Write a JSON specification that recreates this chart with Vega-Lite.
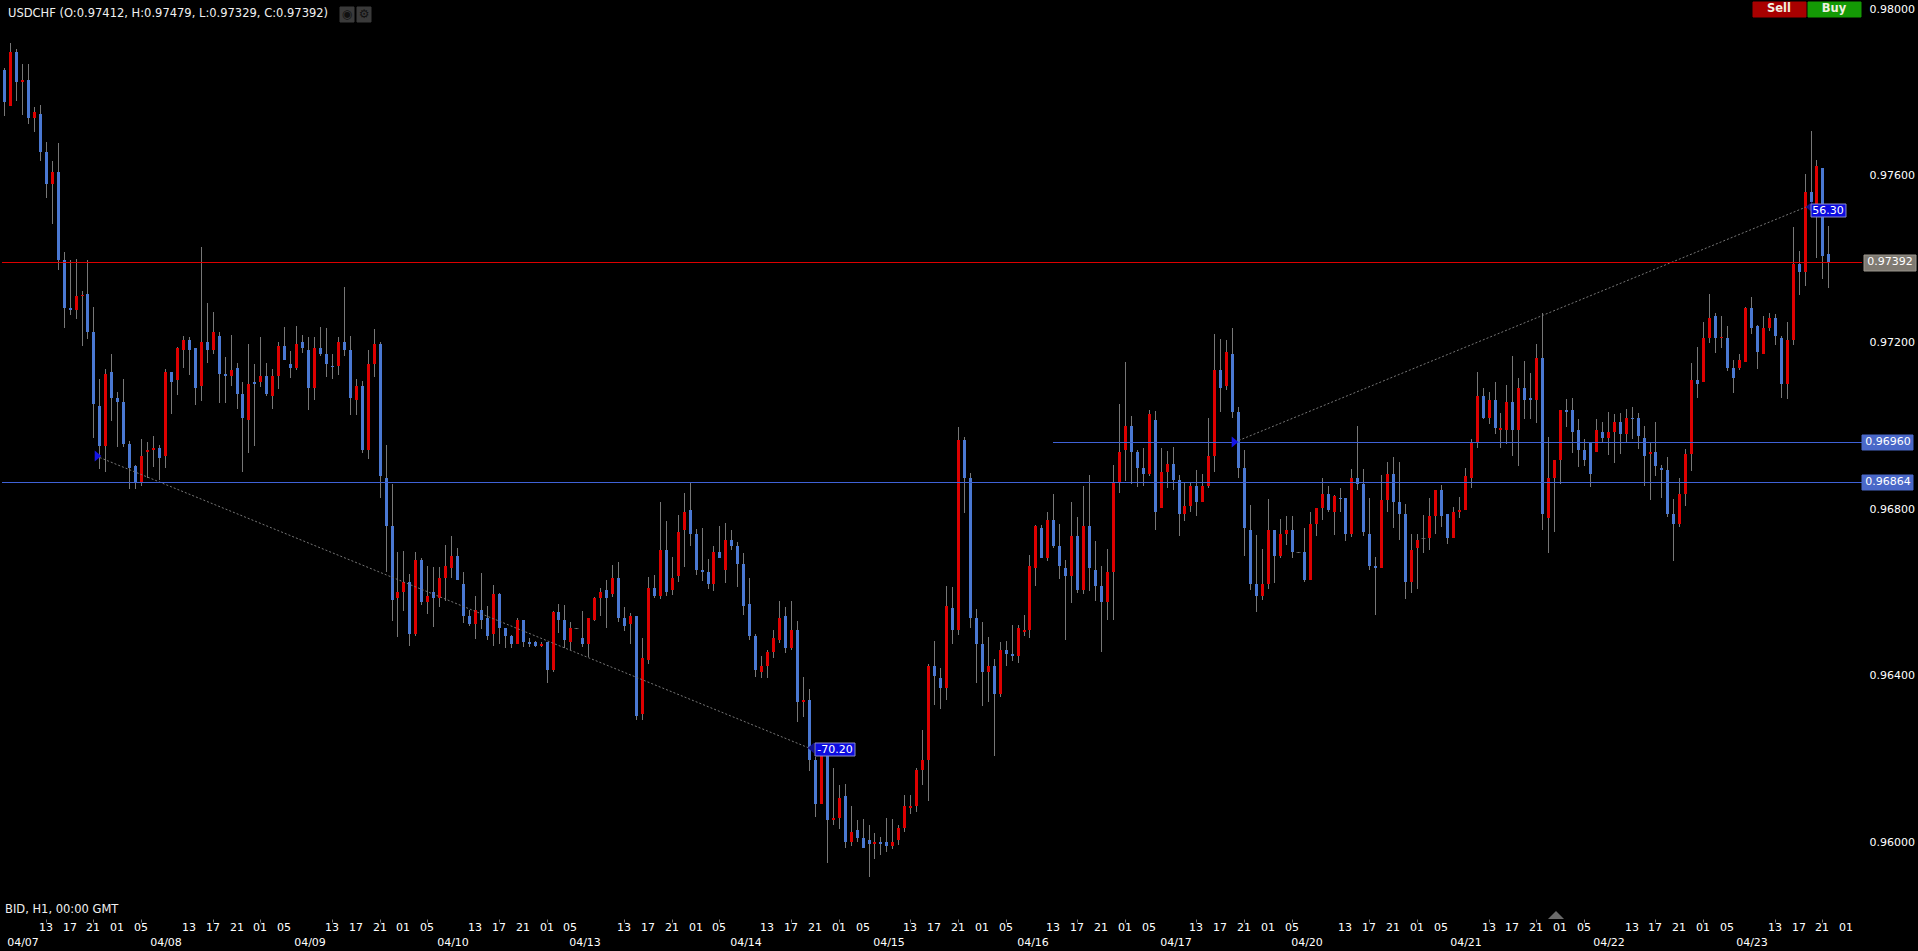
{"$schema":"https://vega.github.io/schema/vega-lite/v6.json","width":1865,"height":919,"autosize":{"type":"none"},"padding":{"left":0,"top":0,"right":53,"bottom":32},"background":"#000000","config":{"view":{"stroke":null},"font":"DejaVu Sans"},
"datasets":{"candles":[
{"bar":0,"open":0.97854,"high":0.97858,"low":0.97742,"close":0.97777},
{"bar":1,"open":0.97767,"high":0.97918,"low":0.97767,"close":0.97897},
{"bar":2,"open":0.97897,"high":0.97903,"low":0.97779,"close":0.97825},
{"bar":3,"open":0.97825,"high":0.97868,"low":0.97746,"close":0.97830},
{"bar":4,"open":0.97830,"high":0.97868,"low":0.97724,"close":0.97738},
{"bar":5,"open":0.97738,"high":0.97765,"low":0.97705,"close":0.97753},
{"bar":6,"open":0.97748,"high":0.97769,"low":0.97635,"close":0.97657},
{"bar":7,"open":0.97657,"high":0.97681,"low":0.97546,"close":0.97580},
{"bar":8,"open":0.97580,"high":0.97634,"low":0.97484,"close":0.97609},
{"bar":9,"open":0.97609,"high":0.97678,"low":0.97374,"close":0.97398},
{"bar":10,"open":0.97398,"high":0.97417,"low":0.97234,"close":0.97282},
{"bar":11,"open":0.97282,"high":0.97398,"low":0.97266,"close":0.97278},
{"bar":12,"open":0.97278,"high":0.97400,"low":0.97256,"close":0.97311},
{"bar":13,"open":0.97311,"high":0.97323,"low":0.97191,"close":0.97314},
{"bar":14,"open":0.97316,"high":0.97398,"low":0.97208,"close":0.97225},
{"bar":15,"open":0.97225,"high":0.97285,"low":0.96970,"close":0.97052},
{"bar":16,"open":0.97047,"high":0.97111,"low":0.96896,"close":0.96951},
{"bar":17,"open":0.96951,"high":0.97135,"low":0.96888,"close":0.97124},
{"bar":18,"open":0.97128,"high":0.97172,"low":0.97011,"close":0.97066},
{"bar":19,"open":0.97066,"high":0.97080,"low":0.96948,"close":0.97056},
{"bar":20,"open":0.97056,"high":0.97111,"low":0.96948,"close":0.96956},
{"bar":21,"open":0.96956,"high":0.96963,"low":0.96848,"close":0.96897},
{"bar":22,"open":0.96903,"high":0.96904,"low":0.96848,"close":0.96863},
{"bar":23,"open":0.96864,"high":0.96967,"low":0.96855,"close":0.96927},
{"bar":24,"open":0.96936,"high":0.96960,"low":0.96874,"close":0.96941},
{"bar":25,"open":0.96941,"high":0.96975,"low":0.96900,"close":0.96946},
{"bar":26,"open":0.96946,"high":0.96953,"low":0.96869,"close":0.96922},
{"bar":27,"open":0.96927,"high":0.97135,"low":0.96898,"close":0.97128},
{"bar":28,"open":0.97128,"high":0.97128,"low":0.97027,"close":0.97104},
{"bar":29,"open":0.97109,"high":0.97187,"low":0.97073,"close":0.97186},
{"bar":30,"open":0.97181,"high":0.97215,"low":0.97138,"close":0.97205},
{"bar":31,"open":0.97205,"high":0.97211,"low":0.97121,"close":0.97181},
{"bar":32,"open":0.97186,"high":0.97186,"low":0.97049,"close":0.97090},
{"bar":33,"open":0.97095,"high":0.97428,"low":0.97059,"close":0.97200},
{"bar":34,"open":0.97200,"high":0.97294,"low":0.97150,"close":0.97181},
{"bar":35,"open":0.97181,"high":0.97272,"low":0.97171,"close":0.97224},
{"bar":36,"open":0.97215,"high":0.97224,"low":0.97054,"close":0.97124},
{"bar":37,"open":0.97124,"high":0.97164,"low":0.97054,"close":0.97119},
{"bar":38,"open":0.97119,"high":0.97217,"low":0.97095,"close":0.97133},
{"bar":39,"open":0.97138,"high":0.97150,"low":0.97039,"close":0.97075},
{"bar":40,"open":0.97075,"high":0.97104,"low":0.96888,"close":0.97018},
{"bar":41,"open":0.97013,"high":0.97195,"low":0.96934,"close":0.97099},
{"bar":42,"open":0.97104,"high":0.97147,"low":0.96951,"close":0.97099},
{"bar":43,"open":0.97104,"high":0.97211,"low":0.97092,"close":0.97119},
{"bar":44,"open":0.97119,"high":0.97150,"low":0.97071,"close":0.97075},
{"bar":45,"open":0.97071,"high":0.97135,"low":0.97039,"close":0.97119},
{"bar":46,"open":0.97119,"high":0.97199,"low":0.97087,"close":0.97191},
{"bar":47,"open":0.97191,"high":0.97236,"low":0.97157,"close":0.97157},
{"bar":48,"open":0.97147,"high":0.97179,"low":0.97114,"close":0.97138},
{"bar":49,"open":0.97138,"high":0.97239,"low":0.97133,"close":0.97195},
{"bar":50,"open":0.97200,"high":0.97217,"low":0.97174,"close":0.97186},
{"bar":51,"open":0.97181,"high":0.97211,"low":0.97037,"close":0.97090},
{"bar":52,"open":0.97090,"high":0.97211,"low":0.97061,"close":0.97186},
{"bar":53,"open":0.97186,"high":0.97236,"low":0.97167,"close":0.97171},
{"bar":54,"open":0.97171,"high":0.97234,"low":0.97116,"close":0.97147},
{"bar":55,"open":0.97143,"high":0.97171,"low":0.97111,"close":0.97140},
{"bar":56,"open":0.97143,"high":0.97211,"low":0.97121,"close":0.97200},
{"bar":57,"open":0.97200,"high":0.97332,"low":0.97167,"close":0.97181},
{"bar":58,"open":0.97181,"high":0.97215,"low":0.97025,"close":0.97066},
{"bar":59,"open":0.97061,"high":0.97111,"low":0.97025,"close":0.97095},
{"bar":60,"open":0.97095,"high":0.97107,"low":0.96934,"close":0.96941},
{"bar":61,"open":0.96941,"high":0.97181,"low":0.96919,"close":0.97147},
{"bar":62,"open":0.97147,"high":0.97231,"low":0.97116,"close":0.97195},
{"bar":63,"open":0.97195,"high":0.97200,"low":0.96826,"close":0.96879},
{"bar":64,"open":0.96874,"high":0.96953,"low":0.96648,"close":0.96759},
{"bar":65,"open":0.96759,"high":0.96859,"low":0.96531,"close":0.96581},
{"bar":66,"open":0.96586,"high":0.96696,"low":0.96492,"close":0.96600},
{"bar":67,"open":0.96600,"high":0.96699,"low":0.96555,"close":0.96624},
{"bar":68,"open":0.96624,"high":0.96643,"low":0.96471,"close":0.96499},
{"bar":69,"open":0.96499,"high":0.96696,"low":0.96495,"close":0.96677},
{"bar":70,"open":0.96677,"high":0.96682,"low":0.96569,"close":0.96576},
{"bar":71,"open":0.96576,"high":0.96663,"low":0.96547,"close":0.96591},
{"bar":72,"open":0.96600,"high":0.96660,"low":0.96516,"close":0.96586},
{"bar":73,"open":0.96586,"high":0.96660,"low":0.96564,"close":0.96634},
{"bar":74,"open":0.96634,"high":0.96713,"low":0.96579,"close":0.96663},
{"bar":75,"open":0.96658,"high":0.96735,"low":0.96634,"close":0.96687},
{"bar":76,"open":0.96687,"high":0.96706,"low":0.96629,"close":0.96629},
{"bar":77,"open":0.96619,"high":0.96648,"low":0.96526,"close":0.96543},
{"bar":78,"open":0.96543,"high":0.96557,"low":0.96519,"close":0.96524},
{"bar":79,"open":0.96524,"high":0.96591,"low":0.96488,"close":0.96557},
{"bar":80,"open":0.96557,"high":0.96646,"low":0.96512,"close":0.96533},
{"bar":81,"open":0.96538,"high":0.96567,"low":0.96485,"close":0.96495},
{"bar":82,"open":0.96500,"high":0.96617,"low":0.96471,"close":0.96596},
{"bar":83,"open":0.96596,"high":0.96598,"low":0.96476,"close":0.96514},
{"bar":84,"open":0.96514,"high":0.96514,"low":0.96466,"close":0.96495},
{"bar":85,"open":0.96495,"high":0.96497,"low":0.96466,"close":0.96476},
{"bar":86,"open":0.96476,"high":0.96538,"low":0.96476,"close":0.96533},
{"bar":87,"open":0.96533,"high":0.96533,"low":0.96468,"close":0.96481},
{"bar":88,"open":0.96481,"high":0.96490,"low":0.96468,"close":0.96476},
{"bar":89,"open":0.96481,"high":0.96483,"low":0.96468,"close":0.96471},
{"bar":90,"open":0.96471,"high":0.96481,"low":0.96468,"close":0.96476},
{"bar":91,"open":0.96481,"high":0.96481,"low":0.96382,"close":0.96413},
{"bar":92,"open":0.96413,"high":0.96555,"low":0.96408,"close":0.96552},
{"bar":93,"open":0.96552,"high":0.96572,"low":0.96502,"close":0.96533},
{"bar":94,"open":0.96533,"high":0.96569,"low":0.96466,"close":0.96485},
{"bar":95,"open":0.96481,"high":0.96528,"low":0.96461,"close":0.96514},
{"bar":96,"open":0.96513,"high":0.96514,"low":0.96512,"close":0.96513},
{"bar":97,"open":0.96490,"high":0.96555,"low":0.96468,"close":0.96476},
{"bar":98,"open":0.96476,"high":0.96538,"low":0.96444,"close":0.96538},
{"bar":99,"open":0.96533,"high":0.96588,"low":0.96531,"close":0.96586},
{"bar":100,"open":0.96586,"high":0.96610,"low":0.96543,"close":0.96600},
{"bar":101,"open":0.96605,"high":0.96629,"low":0.96514,"close":0.96586},
{"bar":102,"open":0.96596,"high":0.96665,"low":0.96588,"close":0.96634},
{"bar":103,"open":0.96634,"high":0.96672,"low":0.96528,"close":0.96538},
{"bar":104,"open":0.96538,"high":0.96564,"low":0.96507,"close":0.96519},
{"bar":105,"open":0.96524,"high":0.96550,"low":0.96476,"close":0.96543},
{"bar":106,"open":0.96543,"high":0.96543,"low":0.96293,"close":0.96303},
{"bar":107,"open":0.96308,"high":0.96490,"low":0.96293,"close":0.96442},
{"bar":108,"open":0.96437,"high":0.96636,"low":0.96428,"close":0.96610},
{"bar":109,"open":0.96610,"high":0.96641,"low":0.96586,"close":0.96591},
{"bar":110,"open":0.96591,"high":0.96816,"low":0.96584,"close":0.96701},
{"bar":111,"open":0.96701,"high":0.96771,"low":0.96591,"close":0.96600},
{"bar":112,"open":0.96605,"high":0.96684,"low":0.96593,"close":0.96634},
{"bar":113,"open":0.96639,"high":0.96785,"low":0.96624,"close":0.96744},
{"bar":114,"open":0.96749,"high":0.96838,"low":0.96660,"close":0.96792},
{"bar":115,"open":0.96797,"high":0.96862,"low":0.96711,"close":0.96740},
{"bar":116,"open":0.96740,"high":0.96752,"low":0.96641,"close":0.96653},
{"bar":117,"open":0.96653,"high":0.96754,"low":0.96627,"close":0.96648},
{"bar":118,"open":0.96648,"high":0.96680,"low":0.96608,"close":0.96620},
{"bar":119,"open":0.96620,"high":0.96711,"low":0.96603,"close":0.96696},
{"bar":120,"open":0.96696,"high":0.96759,"low":0.96682,"close":0.96682},
{"bar":121,"open":0.96653,"high":0.96766,"low":0.96622,"close":0.96725},
{"bar":122,"open":0.96725,"high":0.96749,"low":0.96701,"close":0.96711},
{"bar":123,"open":0.96711,"high":0.96720,"low":0.96612,"close":0.96668},
{"bar":124,"open":0.96668,"high":0.96694,"low":0.96545,"close":0.96567},
{"bar":125,"open":0.96572,"high":0.96634,"low":0.96485,"close":0.96495},
{"bar":126,"open":0.96495,"high":0.96500,"low":0.96396,"close":0.96413},
{"bar":127,"open":0.96408,"high":0.96447,"low":0.96394,"close":0.96423},
{"bar":128,"open":0.96423,"high":0.96461,"low":0.96394,"close":0.96456},
{"bar":129,"open":0.96456,"high":0.96509,"low":0.96442,"close":0.96490},
{"bar":130,"open":0.96485,"high":0.96579,"low":0.96478,"close":0.96538},
{"bar":131,"open":0.96543,"high":0.96564,"low":0.96454,"close":0.96466},
{"bar":132,"open":0.96466,"high":0.96579,"low":0.96461,"close":0.96509},
{"bar":133,"open":0.96509,"high":0.96530,"low":0.96288,"close":0.96336},
{"bar":134,"open":0.96336,"high":0.96395,"low":0.96300,"close":0.96341},
{"bar":135,"open":0.96341,"high":0.96367,"low":0.96171,"close":0.96197},
{"bar":136,"open":0.96197,"high":0.96205,"low":0.96060,"close":0.96091},
{"bar":137,"open":0.96091,"high":0.96233,"low":0.96091,"close":0.96221},
{"bar":138,"open":0.96221,"high":0.96229,"low":0.95950,"close":0.96053},
{"bar":139,"open":0.96053,"high":0.96178,"low":0.96041,"close":0.96058},
{"bar":140,"open":0.96058,"high":0.96137,"low":0.96031,"close":0.96106},
{"bar":141,"open":0.96111,"high":0.96139,"low":0.95986,"close":0.96000},
{"bar":142,"open":0.96000,"high":0.96087,"low":0.95991,"close":0.96024},
{"bar":143,"open":0.96029,"high":0.96053,"low":0.96000,"close":0.96010},
{"bar":144,"open":0.96010,"high":0.96055,"low":0.95986,"close":0.95986},
{"bar":145,"open":0.96005,"high":0.96041,"low":0.95916,"close":0.95995},
{"bar":146,"open":0.95995,"high":0.96022,"low":0.95959,"close":0.96000},
{"bar":147,"open":0.96000,"high":0.96012,"low":0.95969,"close":0.95995},
{"bar":148,"open":0.96000,"high":0.96058,"low":0.95976,"close":0.95991},
{"bar":149,"open":0.95991,"high":0.96055,"low":0.95983,"close":0.96000},
{"bar":150,"open":0.96005,"high":0.96041,"low":0.95993,"close":0.96034},
{"bar":151,"open":0.96034,"high":0.96113,"low":0.96024,"close":0.96087},
{"bar":152,"open":0.96082,"high":0.96113,"low":0.96067,"close":0.96087},
{"bar":153,"open":0.96087,"high":0.96178,"low":0.96072,"close":0.96173},
{"bar":154,"open":0.96173,"high":0.96269,"low":0.96137,"close":0.96197},
{"bar":155,"open":0.96197,"high":0.96427,"low":0.96099,"close":0.96423},
{"bar":156,"open":0.96423,"high":0.96483,"low":0.96329,"close":0.96399},
{"bar":157,"open":0.96394,"high":0.96418,"low":0.96319,"close":0.96370},
{"bar":158,"open":0.96370,"high":0.96615,"low":0.96341,"close":0.96567},
{"bar":159,"open":0.96562,"high":0.96612,"low":0.96475,"close":0.96509},
{"bar":160,"open":0.96509,"high":0.96996,"low":0.96497,"close":0.96965},
{"bar":161,"open":0.96965,"high":0.96972,"low":0.96790,"close":0.96874},
{"bar":162,"open":0.96874,"high":0.96886,"low":0.96514,"close":0.96538},
{"bar":163,"open":0.96538,"high":0.96559,"low":0.96382,"close":0.96475},
{"bar":164,"open":0.96475,"high":0.96528,"low":0.96327,"close":0.96408},
{"bar":165,"open":0.96408,"high":0.96492,"low":0.96336,"close":0.96423},
{"bar":166,"open":0.96423,"high":0.96439,"low":0.96207,"close":0.96355},
{"bar":167,"open":0.96355,"high":0.96480,"low":0.96348,"close":0.96461},
{"bar":168,"open":0.96461,"high":0.96483,"low":0.96423,"close":0.96451},
{"bar":169,"open":0.96451,"high":0.96521,"low":0.96435,"close":0.96447},
{"bar":170,"open":0.96447,"high":0.96521,"low":0.96430,"close":0.96514},
{"bar":171,"open":0.96504,"high":0.96545,"low":0.96495,"close":0.96509},
{"bar":172,"open":0.96509,"high":0.96689,"low":0.96490,"close":0.96663},
{"bar":173,"open":0.96658,"high":0.96761,"low":0.96615,"close":0.96759},
{"bar":174,"open":0.96754,"high":0.96761,"low":0.96682,"close":0.96682},
{"bar":175,"open":0.96682,"high":0.96792,"low":0.96675,"close":0.96773},
{"bar":176,"open":0.96773,"high":0.96836,"low":0.96706,"close":0.96711},
{"bar":177,"open":0.96711,"high":0.96764,"low":0.96632,"close":0.96663},
{"bar":178,"open":0.96658,"high":0.96677,"low":0.96485,"close":0.96639},
{"bar":179,"open":0.96639,"high":0.96816,"low":0.96574,"close":0.96735},
{"bar":180,"open":0.96735,"high":0.96780,"low":0.96598,"close":0.96605},
{"bar":181,"open":0.96605,"high":0.96855,"low":0.96596,"close":0.96759},
{"bar":182,"open":0.96759,"high":0.96881,"low":0.96603,"close":0.96658},
{"bar":183,"open":0.96653,"high":0.96723,"low":0.96579,"close":0.96615},
{"bar":184,"open":0.96615,"high":0.96663,"low":0.96455,"close":0.96576},
{"bar":185,"open":0.96576,"high":0.96703,"low":0.96533,"close":0.96648},
{"bar":186,"open":0.96648,"high":0.96905,"low":0.96533,"close":0.96862},
{"bar":187,"open":0.96864,"high":0.97052,"low":0.96838,"close":0.96936},
{"bar":188,"open":0.96941,"high":0.97152,"low":0.96867,"close":0.96999},
{"bar":189,"open":0.96999,"high":0.97023,"low":0.96860,"close":0.96936},
{"bar":190,"open":0.96936,"high":0.96941,"low":0.96853,"close":0.96898},
{"bar":191,"open":0.96898,"high":0.96946,"low":0.96855,"close":0.96884},
{"bar":192,"open":0.96884,"high":0.97037,"low":0.96879,"close":0.97028},
{"bar":193,"open":0.97013,"high":0.97035,"low":0.96749,"close":0.96792},
{"bar":194,"open":0.96802,"high":0.96946,"low":0.96802,"close":0.96888},
{"bar":195,"open":0.96888,"high":0.96939,"low":0.96850,"close":0.96908},
{"bar":196,"open":0.96908,"high":0.96948,"low":0.96845,"close":0.96869},
{"bar":197,"open":0.96869,"high":0.96881,"low":0.96735,"close":0.96788},
{"bar":198,"open":0.96788,"high":0.96862,"low":0.96771,"close":0.96807},
{"bar":199,"open":0.96807,"high":0.96862,"low":0.96792,"close":0.96855},
{"bar":200,"open":0.96855,"high":0.96893,"low":0.96783,"close":0.96816},
{"bar":201,"open":0.96816,"high":0.96884,"low":0.96816,"close":0.96855},
{"bar":202,"open":0.96855,"high":0.97018,"low":0.96850,"close":0.96927},
{"bar":203,"open":0.96927,"high":0.97220,"low":0.96888,"close":0.97133},
{"bar":204,"open":0.97133,"high":0.97208,"low":0.97032,"close":0.97090},
{"bar":205,"open":0.97095,"high":0.97205,"low":0.97085,"close":0.97176},
{"bar":206,"open":0.97172,"high":0.97234,"low":0.97018,"close":0.97032},
{"bar":207,"open":0.97032,"high":0.97044,"low":0.96874,"close":0.96898},
{"bar":208,"open":0.96898,"high":0.96941,"low":0.96687,"close":0.96754},
{"bar":209,"open":0.96749,"high":0.96809,"low":0.96605,"close":0.96620},
{"bar":210,"open":0.96620,"high":0.96737,"low":0.96553,"close":0.96591},
{"bar":211,"open":0.96591,"high":0.96703,"low":0.96581,"close":0.96620},
{"bar":212,"open":0.96620,"high":0.96824,"low":0.96608,"close":0.96749},
{"bar":213,"open":0.96749,"high":0.96749,"low":0.96622,"close":0.96687},
{"bar":214,"open":0.96687,"high":0.96776,"low":0.96682,"close":0.96740},
{"bar":215,"open":0.96740,"high":0.96783,"low":0.96713,"close":0.96749},
{"bar":216,"open":0.96749,"high":0.96783,"low":0.96682,"close":0.96696},
{"bar":217,"open":0.96696,"high":0.96697,"low":0.96695,"close":0.96696},
{"bar":218,"open":0.96696,"high":0.96754,"low":0.96624,"close":0.96629},
{"bar":219,"open":0.96629,"high":0.96792,"low":0.96629,"close":0.96764},
{"bar":220,"open":0.96764,"high":0.96802,"low":0.96735,"close":0.96802},
{"bar":221,"open":0.96802,"high":0.96874,"low":0.96773,"close":0.96836},
{"bar":222,"open":0.96836,"high":0.96855,"low":0.96792,"close":0.96797},
{"bar":223,"open":0.96792,"high":0.96833,"low":0.96737,"close":0.96831},
{"bar":224,"open":0.96826,"high":0.96850,"low":0.96792,"close":0.96824},
{"bar":225,"open":0.96826,"high":0.96826,"low":0.96723,"close":0.96740},
{"bar":226,"open":0.96740,"high":0.96896,"low":0.96732,"close":0.96874},
{"bar":227,"open":0.96874,"high":0.96999,"low":0.96845,"close":0.96860},
{"bar":228,"open":0.96860,"high":0.96896,"low":0.96735,"close":0.96745},
{"bar":229,"open":0.96740,"high":0.96826,"low":0.96653,"close":0.96663},
{"bar":230,"open":0.96663,"high":0.96684,"low":0.96545,"close":0.96658},
{"bar":231,"open":0.96658,"high":0.96881,"low":0.96658,"close":0.96821},
{"bar":232,"open":0.96821,"high":0.96912,"low":0.96792,"close":0.96884},
{"bar":233,"open":0.96884,"high":0.96924,"low":0.96754,"close":0.96816},
{"bar":234,"open":0.96816,"high":0.96912,"low":0.96725,"close":0.96788},
{"bar":235,"open":0.96788,"high":0.96812,"low":0.96584,"close":0.96625},
{"bar":236,"open":0.96625,"high":0.96740,"low":0.96598,"close":0.96701},
{"bar":237,"open":0.96706,"high":0.96740,"low":0.96608,"close":0.96725},
{"bar":238,"open":0.96729,"high":0.96785,"low":0.96694,"close":0.96729},
{"bar":239,"open":0.96730,"high":0.96826,"low":0.96701,"close":0.96783},
{"bar":240,"open":0.96783,"high":0.96845,"low":0.96740,"close":0.96845},
{"bar":241,"open":0.96845,"high":0.96857,"low":0.96756,"close":0.96783},
{"bar":242,"open":0.96788,"high":0.96788,"low":0.96716,"close":0.96730},
{"bar":243,"open":0.96730,"high":0.96805,"low":0.96730,"close":0.96793},
{"bar":244,"open":0.96793,"high":0.96829,"low":0.96778,"close":0.96797},
{"bar":245,"open":0.96797,"high":0.96898,"low":0.96797,"close":0.96879},
{"bar":246,"open":0.96874,"high":0.96968,"low":0.96850,"close":0.96958},
{"bar":247,"open":0.96960,"high":0.97129,"low":0.96946,"close":0.97071},
{"bar":248,"open":0.97071,"high":0.97090,"low":0.97016,"close":0.97018},
{"bar":249,"open":0.97018,"high":0.97081,"low":0.97004,"close":0.97061},
{"bar":250,"open":0.97061,"high":0.97105,"low":0.96980,"close":0.96994},
{"bar":251,"open":0.96989,"high":0.97030,"low":0.96946,"close":0.96994},
{"bar":252,"open":0.96989,"high":0.97097,"low":0.96956,"close":0.97056},
{"bar":253,"open":0.97056,"high":0.97167,"low":0.96927,"close":0.96989},
{"bar":254,"open":0.96989,"high":0.97114,"low":0.96903,"close":0.97090},
{"bar":255,"open":0.97090,"high":0.97155,"low":0.97016,"close":0.97061},
{"bar":256,"open":0.97066,"high":0.97126,"low":0.97016,"close":0.97061},
{"bar":257,"open":0.97061,"high":0.97196,"low":0.97006,"close":0.97162},
{"bar":258,"open":0.97162,"high":0.97270,"low":0.96749,"close":0.96788},
{"bar":259,"open":0.96778,"high":0.96972,"low":0.96694,"close":0.96874},
{"bar":260,"open":0.96874,"high":0.96917,"low":0.96744,"close":0.96917},
{"bar":261,"open":0.96917,"high":0.97037,"low":0.96860,"close":0.97037},
{"bar":262,"open":0.97037,"high":0.97064,"low":0.96997,"close":0.97032},
{"bar":263,"open":0.97037,"high":0.97066,"low":0.96934,"close":0.96985},
{"bar":264,"open":0.96989,"high":0.97016,"low":0.96900,"close":0.96941},
{"bar":265,"open":0.96941,"high":0.96968,"low":0.96903,"close":0.96917},
{"bar":266,"open":0.96958,"high":0.96958,"low":0.96853,"close":0.96884},
{"bar":267,"open":0.96937,"high":0.97016,"low":0.96937,"close":0.96989},
{"bar":268,"open":0.96985,"high":0.97008,"low":0.96960,"close":0.96970},
{"bar":269,"open":0.96970,"high":0.97032,"low":0.96929,"close":0.96985},
{"bar":270,"open":0.96985,"high":0.97028,"low":0.96910,"close":0.97009},
{"bar":271,"open":0.97009,"high":0.97030,"low":0.96932,"close":0.96980},
{"bar":272,"open":0.96980,"high":0.97040,"low":0.96960,"close":0.97018},
{"bar":273,"open":0.97018,"high":0.97045,"low":0.96968,"close":0.97016},
{"bar":274,"open":0.97018,"high":0.97030,"low":0.96944,"close":0.96975},
{"bar":275,"open":0.96970,"high":0.96999,"low":0.96855,"close":0.96927},
{"bar":276,"open":0.96932,"high":0.96958,"low":0.96821,"close":0.96937},
{"bar":277,"open":0.96937,"high":0.97008,"low":0.96879,"close":0.96903},
{"bar":278,"open":0.96898,"high":0.96905,"low":0.96826,"close":0.96893},
{"bar":279,"open":0.96893,"high":0.96924,"low":0.96780,"close":0.96788},
{"bar":280,"open":0.96788,"high":0.96824,"low":0.96675,"close":0.96764},
{"bar":281,"open":0.96764,"high":0.96874,"low":0.96756,"close":0.96836},
{"bar":282,"open":0.96836,"high":0.96944,"low":0.96807,"close":0.96932},
{"bar":283,"open":0.96932,"high":0.97150,"low":0.96891,"close":0.97109},
{"bar":284,"open":0.97109,"high":0.97189,"low":0.97066,"close":0.97100},
{"bar":285,"open":0.97104,"high":0.97248,"low":0.97104,"close":0.97210},
{"bar":286,"open":0.97210,"high":0.97316,"low":0.97198,"close":0.97258},
{"bar":287,"open":0.97263,"high":0.97270,"low":0.97174,"close":0.97210},
{"bar":288,"open":0.97210,"high":0.97263,"low":0.97186,"close":0.97212},
{"bar":289,"open":0.97210,"high":0.97239,"low":0.97131,"close":0.97138},
{"bar":290,"open":0.97138,"high":0.97157,"low":0.97078,"close":0.97114},
{"bar":291,"open":0.97138,"high":0.97172,"low":0.97133,"close":0.97157},
{"bar":292,"open":0.97152,"high":0.97285,"low":0.97152,"close":0.97282},
{"bar":293,"open":0.97282,"high":0.97308,"low":0.97220,"close":0.97234},
{"bar":294,"open":0.97239,"high":0.97241,"low":0.97136,"close":0.97177},
{"bar":295,"open":0.97172,"high":0.97263,"low":0.97172,"close":0.97234},
{"bar":296,"open":0.97234,"high":0.97270,"low":0.97227,"close":0.97258},
{"bar":297,"open":0.97258,"high":0.97268,"low":0.97193,"close":0.97215},
{"bar":298,"open":0.97210,"high":0.97215,"low":0.97066,"close":0.97100},
{"bar":299,"open":0.97100,"high":0.97248,"low":0.97064,"close":0.97205},
{"bar":300,"open":0.97205,"high":0.97477,"low":0.97193,"close":0.97388},
{"bar":301,"open":0.97388,"high":0.97419,"low":0.97314,"close":0.97369},
{"bar":302,"open":0.97369,"high":0.97604,"low":0.97335,"close":0.97561},
{"bar":303,"open":0.97561,"high":0.97707,"low":0.97532,"close":0.97537},
{"bar":304,"open":0.97510,"high":0.97638,"low":0.97402,"close":0.97623},
{"bar":305,"open":0.97618,"high":0.97618,"low":0.97352,"close":0.97407},
{"bar":306,"open":0.97412,"high":0.97479,"low":0.97329,"close":0.97392}
],
"hours":[{"bar":7,"label":"13"},{"bar":11,"label":"17"},{"bar":15,"label":"21"},{"bar":19,"label":"01"},{"bar":23,"label":"05"},{"bar":31,"label":"13"},{"bar":35,"label":"17"},{"bar":39,"label":"21"},{"bar":43,"label":"01"},{"bar":47,"label":"05"},{"bar":55,"label":"13"},{"bar":59,"label":"17"},{"bar":63,"label":"21"},{"bar":67,"label":"01"},{"bar":71,"label":"05"},{"bar":79,"label":"13"},{"bar":83,"label":"17"},{"bar":87,"label":"21"},{"bar":91,"label":"01"},{"bar":95,"label":"05"},{"bar":104,"label":"13"},{"bar":108,"label":"17"},{"bar":112,"label":"21"},{"bar":116,"label":"01"},{"bar":120,"label":"05"},{"bar":128,"label":"13"},{"bar":132,"label":"17"},{"bar":136,"label":"21"},{"bar":140,"label":"01"},{"bar":144,"label":"05"},{"bar":152,"label":"13"},{"bar":156,"label":"17"},{"bar":160,"label":"21"},{"bar":164,"label":"01"},{"bar":168,"label":"05"},{"bar":176,"label":"13"},{"bar":180,"label":"17"},{"bar":184,"label":"21"},{"bar":188,"label":"01"},{"bar":192,"label":"05"},{"bar":200,"label":"13"},{"bar":204,"label":"17"},{"bar":208,"label":"21"},{"bar":212,"label":"01"},{"bar":216,"label":"05"},{"bar":225,"label":"13"},{"bar":229,"label":"17"},{"bar":233,"label":"21"},{"bar":237,"label":"01"},{"bar":241,"label":"05"},{"bar":249,"label":"13"},{"bar":253,"label":"17"},{"bar":257,"label":"21"},{"bar":261,"label":"01"},{"bar":265,"label":"05"},{"bar":273,"label":"13"},{"bar":277,"label":"17"},{"bar":281,"label":"21"},{"bar":285,"label":"01"},{"bar":289,"label":"05"},{"bar":297,"label":"13"},{"bar":301,"label":"17"},{"bar":305,"label":"21"},{"bar":309,"label":"01"}],
"levels":[{"level":0.97392,"from":-0.37,"to":311.7,"kind":"resistance"},{"level":0.9696,"from":176,"to":311.7,"kind":"pivot"},{"level":0.96864,"from":-0.37,"to":311.7,"kind":"support"}],
"trends":[{"trend":"down","bar":15.5,"price":0.969275},{"trend":"down","bar":135.1,"price":0.962255},{"trend":"up","bar":206.4,"price":0.9696},{"trend":"up","bar":302.2,"price":0.97523}],
"boxes":[
{"kind":"sell","x1":293.3,"x2":302.2,"y1":0.980168,"y2":0.979808},
{"kind":"buy","x1":302.5,"x2":311.4,"y1":0.980168,"y2":0.979808},
{"kind":"icon","x1":56.3,"x2":58.7,"y1":0.980041,"y2":0.979688},
{"kind":"icon","x1":59.2,"x2":61.6,"y1":0.980041,"y2":0.979688},
{"kind":"last","x1":311.9,"x2":320.7,"y1":0.974094,"y2":0.973717},
{"kind":"tag","x1":311.7,"x2":320.2,"y1":0.969772,"y2":0.969419},
{"kind":"tag","x1":311.7,"x2":320.2,"y1":0.968811,"y2":0.968458},
{"kind":"measure","x1":136.0,"x2":142.7,"y1":0.962369,"y2":0.962065},
{"kind":"measure","x1":303.0,"x2":309.0,"y1":0.975318,"y2":0.974999}],
"labels":[
{"bar":3.2,"price":0.957582,"label":"04/07"},{"bar":27.2,"price":0.957582,"label":"04/08"},{"bar":51.4,"price":0.957582,"label":"04/09"},{"bar":75.3,"price":0.957582,"label":"04/10"},{"bar":97.5,"price":0.957582,"label":"04/13"},{"bar":124.4,"price":0.957582,"label":"04/14"},{"bar":148.4,"price":0.957582,"label":"04/15"},{"bar":172.6,"price":0.957582,"label":"04/16"},{"bar":196.6,"price":0.957582,"label":"04/17"},{"bar":218.6,"price":0.957582,"label":"04/20"},{"bar":245.2,"price":0.957582,"label":"04/21"},{"bar":269.2,"price":0.957582,"label":"04/22"},{"bar":293.2,"price":0.957582,"label":"04/23"},
{"bar":316.3,"price":0.97392,"label":"0.97392"},{"bar":316.0,"price":0.9696,"label":"0.96960"},{"bar":316.0,"price":0.96864,"label":"0.96864"},
{"bar":139.3,"price":0.962216,"label":"-70.20"},{"bar":306.0,"price":0.975157,"label":"56.30"}],
"leftLabels":[{"bar":0.75,"price":0.97988,"label":"USDCHF (O:0.97412, H:0.97479, L:0.97329, C:0.97392)"},{"bar":0.25,"price":0.958367,"label":"BID, H1, 00:00 GMT"}],
"buttons":[{"bar":297.75,"price":0.979983,"label":"Sell"},{"bar":306.95,"price":0.979983,"label":"Buy"}],
"icons":[{"bar":57.5,"price":0.97987,"label":"◉"},{"bar":60.4,"price":0.97987,"label":"⚙"}],
"startMarks":[{"bar":15.7,"price":0.969275},{"bar":206.4,"price":0.9696}],
"endMarks":[{"bar":135.3,"price":0.962255},{"bar":302.7,"price":0.97523}],
"scroll":[{"bar":260.3,"price":0.95825}]},
"layer":[
{"data":{"name":"candles"},"mark":{"type":"rule","color":"#777777","strokeWidth":1,"xOffset":0.5},"encoding":{"x":{"field":"bar","type":"quantitative","scale":{"domain":[-0.671,312.14],"nice":false,"zero":false,"padding":0,"round":true},"axis":{"title":null,"grid":false,"domain":false,"labels":false,"values":[7,11,15,19,23,31,35,39,43,47,55,59,63,67,71,79,83,87,91,95,104,108,112,116,120,128,132,136,140,144,152,156,160,164,168,176,180,184,188,192,200,204,208,212,216,225,229,233,237,241,249,253,257,261,265,273,277,281,285,289,297,301,305,309],"tickColor":"#777777","tickSize":3,"tickWidth":1}},"y":{"field":"high","type":"quantitative","scale":{"domain":[0.958154,0.98021],"nice":false,"zero":false,"padding":0,"round":true},"axis":{"title":null,"grid":false,"domain":false,"ticks":false,"orient":"right","values":[0.96,0.964,0.968,0.972,0.976,0.98],"format":".5f","labelColor":"#ffffff","labelFont":"DejaVu Sans","labelFontSize":11,"labelPadding":4,"labelOverlap":false}},"y2":{"field":"low"}}},
{"data":{"name":"candles"},"transform":[{"filter":"datum.open!=datum.close"}],"mark":{"type":"bar","size":3,"xOffset":0.5},"encoding":{"x":{"field":"bar","type":"quantitative"},"y":{"field":"open","type":"quantitative"},"y2":{"field":"close"},"color":{"condition":{"test":"datum.close>datum.open","value":"#dd0000"},"value":"#4a78d2"}}},
{"data":{"name":"candles"},"transform":[{"filter":"datum.open==datum.close"}],"mark":{"type":"tick","orient":"horizontal","size":4,"thickness":1,"color":"#777777","yOffset":0.5,"xOffset":0.5},"encoding":{"x":{"field":"bar","type":"quantitative"},"y":{"field":"open","type":"quantitative"}}},
{"data":{"name":"trends"},"mark":{"type":"line","color":"#777777","strokeWidth":1,"strokeDash":[2,2]},"encoding":{"x":{"field":"bar","type":"quantitative"},"y":{"field":"price","type":"quantitative"},"detail":{"field":"trend"}}},
{"data":{"name":"levels"},"mark":{"type":"rule","strokeWidth":1,"yOffset":0.5},"encoding":{"y":{"field":"level","type":"quantitative"},"x":{"field":"from","type":"quantitative"},"x2":{"field":"to"},"color":{"field":"kind","type":"nominal","legend":null,"scale":{"domain":["resistance","pivot","support"],"range":["#dd0000","#3f62d6","#3f62d6"]}}}},
{"data":{"name":"startMarks"},"mark":{"type":"point","shape":"M-0.6,-1L0.6,0L-0.6,1Z","size":121,"filled":true,"color":"#1414e6","opacity":1},"encoding":{"x":{"field":"bar","type":"quantitative"},"y":{"field":"price","type":"quantitative"}}},
{"data":{"name":"endMarks"},"mark":{"type":"point","shape":"M0.6,-1L-0.6,0L0.6,1Z","size":121,"filled":true,"color":"#10108c","opacity":1},"encoding":{"x":{"field":"bar","type":"quantitative"},"y":{"field":"price","type":"quantitative"}}},
{"data":{"name":"boxes"},"mark":{"type":"rect","strokeWidth":1},"encoding":{"x":{"field":"x1","type":"quantitative"},"x2":{"field":"x2"},"y":{"field":"y1","type":"quantitative"},"y2":{"field":"y2"},"fill":{"field":"kind","type":"nominal","legend":null,"scale":{"domain":["sell","buy","icon","last","tag","measure"],"range":["#a80000","#149a05","#3a3a3a","#7f7a72","#4a68c8","#0c0ce0"]}},"stroke":{"field":"kind","type":"nominal","legend":null,"scale":{"domain":["sell","buy","icon","last","tag","measure"],"range":["#a80000","#149a05","#3a3a3a","#9a958c","#4a68c8","#8a8ac8"]}}}},
{"data":{"name":"hours"},"mark":{"type":"text","align":"center","baseline":"middle","font":"DejaVu Sans","fontSize":11,"color":"#ffffff"},"encoding":{"x":{"field":"bar","type":"quantitative"},"y":{"datum":0.95794,"type":"quantitative"},"text":{"field":"label"}}},
{"data":{"name":"labels"},"mark":{"type":"text","align":"center","baseline":"middle","font":"DejaVu Sans","fontSize":11,"color":"#ffffff"},"encoding":{"x":{"field":"bar","type":"quantitative"},"y":{"field":"price","type":"quantitative"},"text":{"field":"label"}}},
{"data":{"name":"leftLabels"},"mark":{"type":"text","align":"left","baseline":"middle","font":"DejaVu Sans","fontSize":11.5,"color":"#f0f0f0"},"encoding":{"x":{"field":"bar","type":"quantitative"},"y":{"field":"price","type":"quantitative"},"text":{"field":"label"}}},
{"data":{"name":"buttons"},"mark":{"type":"text","align":"center","baseline":"middle","font":"DejaVu Sans","fontSize":11.5,"fontWeight":"bold","color":"#f0f0e0"},"encoding":{"x":{"field":"bar","type":"quantitative"},"y":{"field":"price","type":"quantitative"},"text":{"field":"label"}}},
{"data":{"name":"icons"},"mark":{"type":"text","align":"center","baseline":"middle","font":"DejaVu Sans","fontSize":12,"color":"#111111"},"encoding":{"x":{"field":"bar","type":"quantitative"},"y":{"field":"price","type":"quantitative"},"text":{"field":"label"}}},
{"data":{"name":"scroll"},"mark":{"type":"point","shape":"M-1,0.5L0,-0.5L1,0.5Z","size":256,"filled":true,"color":"#6a6a6a","opacity":1},"encoding":{"x":{"field":"bar","type":"quantitative"},"y":{"field":"price","type":"quantitative"}}}
]}
